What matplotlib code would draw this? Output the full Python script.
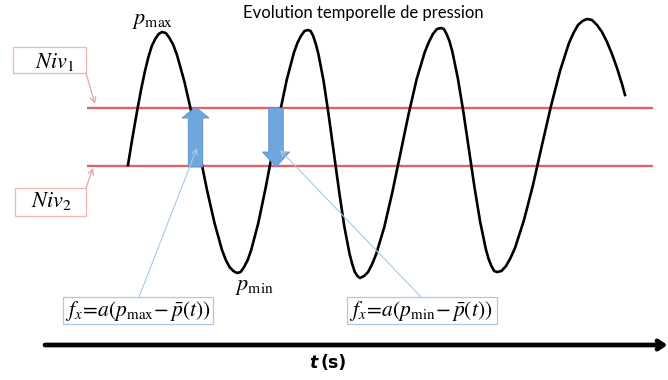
import matplotlib
matplotlib.use('Agg')
import matplotlib.pyplot as plt
from matplotlib.patches import Rectangle

plt.rcParams['mathtext.fontset'] = 'stix'

# ── values (t in s, p in arbitrary pressure units) ──
t_curve = [0.0, 0.34, 0.68, 1.02, 1.36, 1.70, 2.04, 2.38, 2.72, 3.06, 3.4,
           3.78, 4.15, 4.53, 4.9, 5.65, 6.4, 7.15, 7.9, 8.65, 9.4, 9.78, 10.15, 10.53, 10.9,
           11.26, 11.61, 11.97, 12.32, 13.03, 13.74, 14.45, 15.16, 15.87, 16.58, 16.94, 17.29, 17.65, 18.0,
           18.26, 18.52, 18.78, 19.04, 19.56, 20.08, 20.6, 21.12, 21.64, 22.16, 22.42, 22.68, 22.94, 23.2,
           23.61, 24.01, 24.42, 24.82, 25.63, 26.44, 27.25, 28.06, 28.87, 29.68, 30.09, 30.49, 30.9, 31.3,
           31.58, 31.86, 32.14, 32.42, 32.98, 33.54, 34.1, 34.66, 35.22, 35.78, 36.06, 36.34, 36.62, 36.9,
           37.35, 37.8, 38.25, 38.7, 39.6, 40.5, 41.4, 42.3, 43.2, 44.1, 44.55, 45.0, 45.45, 45.9,
           46.4, 46.9, 47.4, 47.9, 48.4, 48.9, 49.4, 49.7]
p_curve = [-0.13, 0.08, 0.28, 0.47, 0.65, 0.81, 0.95, 1.06, 1.13, 1.18, 1.20,
           1.19, 1.14, 1.07, 0.97, 0.70, 0.37, -0.01, -0.38, -0.71, -0.98, -1.08, -1.15, -1.19, -1.21,
           -1.20, -1.15, -1.08, -0.98, -0.71, -0.37, 0.0, 0.38, 0.72, 0.99, 1.09, 1.16, 1.21, 1.22,
           1.21, 1.16, 1.08, 0.98, 0.71, 0.36, -0.02, -0.40, -0.75, -1.02, -1.12, -1.20, -1.24, -1.26,
           -1.24, -1.20, -1.12, -1.02, -0.75, -0.40, -0.01, 0.38, 0.73, 1.00, 1.10, 1.18, 1.23, 1.24,
           1.23, 1.18, 1.11, 1.01, 0.74, 0.40, 0.02, -0.36, -0.70, -0.97, -1.07, -1.14, -1.19, -1.20,
           -1.19, -1.14, -1.06, -0.96, -0.68, -0.33, 0.07, 0.46, 0.81, 1.09, 1.19, 1.27, 1.31, 1.33,
           1.32, 1.27, 1.20, 1.10, 0.98, 0.84, 0.68, 0.57]

niv_levels = [0.44, -0.14]            # Niv1, Niv2
niv_labels = [r'$Niv_1$', r'$Niv_2$']
niv_span = (-4.1, 52.5)

p_max_pt = (3.4, 1.20)
p_min_pt = (10.9, -1.21)

# force arrows: (t, p_start, p_end)
force_arrows = [(6.75, -0.15, 0.45), (14.8, 0.44, -0.15)]
formulas = [r'$f_x\!=\!a(p_{\max}\!-\bar{p}(t))$', r'$f_x\!=\!a(p_{\min}\!-\bar{p}(t))$']

# ── figure ───────────────────────────────────────────────────────────────
fig = plt.figure(figsize=(6.68, 3.80), dpi=100)
ax = fig.add_axes([0, 0, 1, 1])
ax.set_xlim(-12.8, 54.0)
ax.set_ylim(-2.28, 1.52)
ax.axis('off')

# level lines
for lv in niv_levels:
    ax.plot(niv_span, [lv, lv], color='#de6464', lw=1.7, solid_capstyle='butt', zorder=2)

# pressure curve
ax.plot(t_curve, p_curve, color='black', lw=1.9, solid_joinstyle='round', zorder=3)

# blue force arrows
for t, p0, p1 in force_arrows:
    hl = 0.11 if p1 > p0 else 0.15
    ax.arrow(t, p0, 0, p1 - p0, width=1.45, head_width=2.7, head_length=hl,
             length_includes_head=True, facecolor='#6fa6dc', edgecolor='#5a92cc',
             lw=0.6, zorder=4)

# pmax / pmin labels
ax.text(p_max_pt[0] - 0.95, p_max_pt[1] + 0.11, r'$p_{\max}$', fontsize=16,
        ha='center', va='center')
ax.text(p_min_pt[0] + 1.7, p_min_pt[1] - 0.14, r'$p_{\min}$', fontsize=16,
        ha='center', va='center')

# Niv boxes + pink arrows
niv_boxes = [(-11.5, 0.79, 7.3, 0.26), (-11.3, -0.64, 7.1, 0.28)]
niv_text_pos = [(-7.35, 0.90), (-7.7, -0.49)]
niv_arrow = [((-4.2, 0.79), (-3.3, 0.48)), ((-4.2, -0.36), (-3.5, -0.16))]
for (bx, by, bw, bh), (tx, ty), lab, (a0, a1) in zip(niv_boxes, niv_text_pos,
                                                     niv_labels, niv_arrow):
    ax.add_patch(Rectangle((bx, by), bw, bh, fc='white', ec='#f2b4b4', lw=0.9))
    ax.text(tx, ty, lab, fontsize=16, ha='center', va='center')
    ax.annotate('', xy=a1, xytext=a0,
                arrowprops=dict(arrowstyle='->', color='#eba3a3', lw=0.9,
                                shrinkA=0, shrinkB=0))

# formula boxes + light blue callouts
formula_boxes = [(-6.5, -1.72, 15.0, 0.27), (21.9, -1.72, 15.0, 0.27)]
formula_pos = [(1.0, -1.585), (29.3, -1.585)]
callout_starts = [(1.1, -1.45), (29.3, -1.45)]
callout_ends = [(6.9, 0.04), (15.2, 0.02)]
for (bx, by, bw, bh), (fx, fy), txt in zip(formula_boxes, formula_pos, formulas):
    ax.add_patch(Rectangle((bx, by), bw, bh, fc='white', ec='#a9c9ea', lw=0.9, zorder=5))
    ax.text(fx, fy, txt, fontsize=15.5, ha='center', va='center', zorder=6)
for s, e in zip(callout_starts, callout_ends):
    ax.annotate('', xy=e, xytext=s,
                arrowprops=dict(arrowstyle='->', color='#a9c9ea', lw=0.8,
                                shrinkA=0, shrinkB=0), zorder=5)

# title
ax.text(23.5, 1.395, 'Evolution temporelle de pression', fontsize=12,
        family='Lato', ha='center', va='center')

# time axis arrow
ax.annotate('', xy=(53.95, -1.93), xytext=(-8.3, -1.93),
            arrowprops=dict(arrowstyle='->,head_length=0.45,head_width=0.3',
                            color='black', lw=3.4, shrinkA=0, shrinkB=0))
ax.text(19.0, -2.11, 't', fontsize=12.5, fontweight='bold', style='italic',
        family='DejaVu Sans', ha='right', va='center')
ax.text(19.3, -2.11, '(s)', fontsize=12.5, fontweight='bold',
        family='DejaVu Sans', ha='left', va='center')

fig.savefig('out.png', dpi=100)
